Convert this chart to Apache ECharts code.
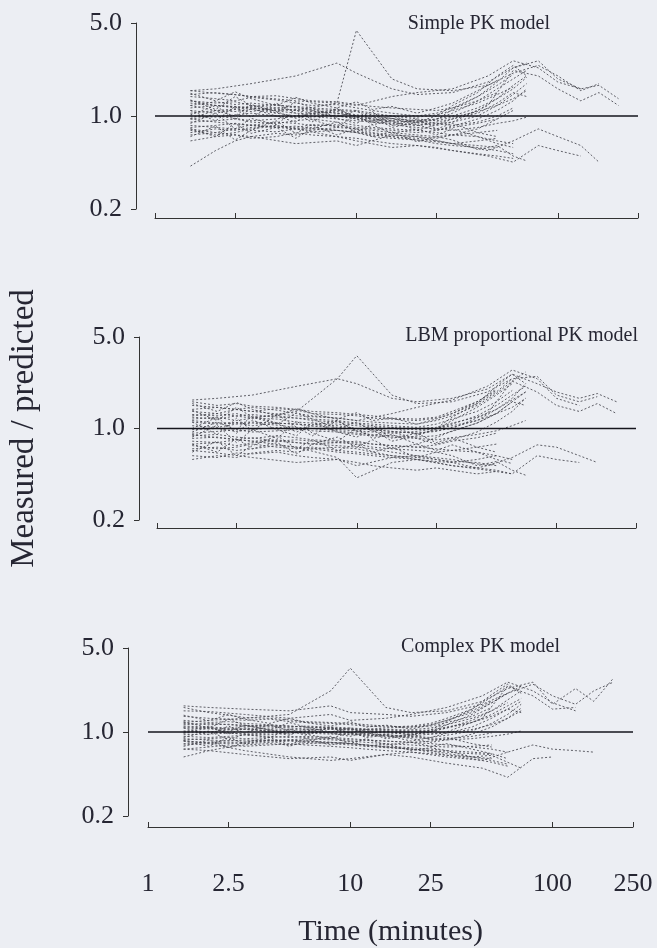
<!DOCTYPE html>
<html>
<head>
    <meta charset="UTF-8">
    <title>Measured / predicted</title>
    <script src="https://cdn.jsdelivr.net/npm/echarts@6.0.0/dist/echarts.min.js"></script>
</head>
<body style="margin:0; background:#eceef3;">
<div id="main" style="width:657px; height:948px;"></div>
<script>
    // sampling times (minutes)
    var timesDense = [1.5, 2, 2.5, 3, 4, 5, 6, 8, 10, 12, 15, 20, 25, 30, 40, 50, 60, 70];
    var timesLong = [1.5, 2, 3, 5, 8, 10, 15, 20, 30, 45, 60, 80, 100, 130, 160, 200];

    var xTicks = [1, 2.5, 10, 25, 100, 250];
    var yTicks = [0.2, 1.0, 5.0];
    var panelTitles = ['Simple PK model', 'LBM proportional PK model', 'Complex PK model'];
    var refLine = [[1, 1], [250, 1]];

    // Simple PK model
    var simpleDense = [
        [1.30, 1.25, 1.28, 1.20, 1.15, 1.18, 1.10, 1.05, 1.00, 0.95, 0.92, 0.90, 0.95, 1.05, 1.30, 1.60, 1.90, 2.20],
        [0.75, 0.80, 0.78, 0.82, 0.85, 0.80, 0.78, 0.82, 0.80, 0.75, 0.72, 0.70, 0.68, 0.72, 0.80, 0.95, 1.10],
        [1.05, 1.10, 1.08, 1.12, 1.05, 1.00, 0.98, 1.02, 0.95, 0.90, 0.88, 0.85, 0.90, 0.95, 1.10, 1.35, 1.70, 2.00],
        [0.90, 0.92, 0.95, 0.90, 0.88, 0.92, 0.95, 0.90, 0.85, 0.82, 0.80, 0.78, 0.75, 0.72, 0.70, 0.65, 0.62],
        [1.40, 1.35, 1.30, 1.38, 1.32, 1.25, 1.20, 1.22, 1.15, 1.10, 1.05, 1.00, 1.05, 1.15, 1.40, 1.80, 2.30, 2.50],
        [0.65, 0.70, 0.72, 0.68, 0.70, 0.75, 0.72, 0.70, 0.68, 0.65, 0.62, 0.60, 0.58, 0.55, 0.52, 0.50, 0.48],
        [1.15, 1.20, 1.18, 1.15, 1.10, 1.12, 1.08, 1.05, 1.00, 0.98, 0.95, 0.92, 0.88, 0.85, 0.90, 1.00, 1.15],
        [0.82, 0.85, 0.88, 0.85, 0.90, 0.88, 0.85, 0.86, 0.82, 0.80, 0.78, 0.75, 0.78, 0.82, 0.88, 0.95],
        [1.00, 0.98, 1.02, 1.05, 1.00, 0.98, 1.00, 0.95, 0.92, 0.90, 0.86, 0.82, 0.80, 0.78, 0.82, 0.88, 0.92, 0.98],
        [1.25, 1.20, 1.15, 1.18, 1.22, 1.15, 1.12, 1.10, 1.08, 1.02, 1.00, 0.98, 1.02, 1.10, 1.25, 1.45, 1.65],
        [0.72, 0.75, 0.80, 0.78, 0.76, 0.80, 0.82, 0.78, 0.75, 0.72, 0.70, 0.68, 0.65, 0.62, 0.60, 0.58],
        [0.95, 1.00, 0.96, 0.92, 0.95, 1.00, 1.05, 1.00, 0.98, 0.95, 0.92, 0.90, 0.85, 0.90, 1.00, 1.20, 1.45, 1.75],
        [1.55, 1.48, 1.45, 1.40, 1.42, 1.35, 1.30, 1.28, 1.22, 1.18, 1.15, 1.12, 1.10, 1.15, 1.30, 1.50],
        [0.85, 0.82, 0.80, 0.86, 0.82, 0.84, 0.80, 0.78, 0.76, 0.74, 0.70, 0.66, 0.62, 0.60, 0.58, 0.55, 0.52],
        [1.10, 1.05, 1.12, 1.08, 1.15, 1.10, 1.05, 1.08, 1.02, 1.00, 0.96, 0.92, 0.95, 1.00, 1.15, 1.35, 1.60, 1.95],
        [0.78, 0.72, 0.75, 0.80, 0.84, 0.82, 0.86, 0.84, 0.80, 0.78, 0.75, 0.72, 0.70, 0.72, 0.75, 0.78],
        [1.20, 1.28, 1.22, 1.25, 1.20, 1.18, 1.15, 1.12, 1.10, 1.05, 1.00, 0.95, 0.92, 0.98, 1.08, 1.20, 1.35, 1.55],
        [0.42, 0.55, 0.65, 0.70, 0.74, 0.72, 0.76, 0.78, 0.75, 0.70, 0.68, 0.66, 0.64, 0.62, 0.65, 0.68],
        [1.10, 0.92, 1.18, 0.98, 1.25, 1.05, 0.90, 1.15, 0.96, 1.08, 0.85, 0.95, 0.80, 0.88, 0.75, 0.70],
        [0.88, 1.05, 0.80, 0.96, 0.86, 1.12, 0.94, 0.82, 1.02, 0.86, 0.92, 0.78, 0.86, 0.95, 1.05, 1.25, 1.50, 1.40],
        [1.32, 1.12, 1.40, 1.20, 1.05, 1.28, 1.15, 0.98, 1.10, 0.92, 1.00, 0.88, 0.94, 1.12, 1.40, 1.70, 2.05],
        [0.70, 0.84, 0.66, 0.78, 0.92, 0.74, 0.86, 0.72, 0.80, 0.70, 0.76, 0.64, 0.70, 0.66, 0.56, 0.60, 0.50, 0.46],
        [1.02, 1.20, 0.94, 1.14, 1.00, 0.90, 1.10, 0.96, 0.88, 1.00, 0.82, 0.90, 1.00, 1.20, 1.50, 2.00, 2.40, 2.00],
        [1.48, 1.30, 1.52, 1.35, 1.20, 1.38, 1.25, 1.15, 1.28, 1.12, 1.18, 1.05, 1.15, 1.25, 1.55, 1.85],
        [0.80, 0.70, 0.88, 0.74, 0.82, 0.68, 0.80, 0.90, 0.76, 0.86, 0.74, 0.80, 0.72, 0.80, 0.70, 0.62, 0.58],
        [0.96, 1.10, 1.00, 1.22, 1.08, 0.96, 1.04, 1.12, 0.98, 0.90, 0.96, 0.86, 0.78, 0.84, 0.95, 1.10, 1.30, 1.60]
    ];
    var simpleLong = [
        [1.55, 1.60, 1.75, 2.00, 2.50, 2.10, 1.60, 1.45, 1.50, 1.80, 2.30, 2.60, 1.90, 1.60, 1.70, 1.35],
        [1.30, 1.20, 1.15, 1.10, 1.25, 4.40, 1.90, 1.60, 1.55, 1.70, 2.10, 2.40, 2.00, 1.55, 1.75],
        [0.95, 0.90, 0.85, 0.80, 0.70, 0.65, 0.58, 0.60, 0.55, 0.50, 0.45, 0.60, 0.55, 0.50],
        [1.20, 1.10, 1.15, 1.05, 1.00, 0.95, 0.90, 0.85, 0.90, 1.20, 2.20, 2.00, 1.60, 1.30, 1.50, 1.20],
        [1.45, 1.50, 1.40, 1.30, 1.25, 1.20, 1.40, 1.50, 1.60, 2.00, 2.60, 2.30, 1.80, 1.60],
        [0.80, 0.75, 0.70, 0.62, 0.65, 0.60, 0.72, 0.70, 0.62, 0.55, 0.65, 0.80, 0.70, 0.60, 0.45]
    ];

    // LBM proportional PK model
    var lbmDense = [
        [1.35, 1.30, 1.40, 1.45, 1.38, 1.30, 1.25, 1.20, 1.15, 1.12, 1.10, 1.08, 1.15, 1.25, 1.50, 1.85, 2.30, 2.70],
        [0.70, 0.72, 0.68, 0.70, 0.74, 0.72, 0.70, 0.66, 0.64, 0.62, 0.60, 0.58, 0.56, 0.55, 0.58, 0.62],
        [1.05, 1.02, 1.08, 1.10, 1.06, 1.02, 1.00, 0.98, 0.96, 0.94, 0.92, 0.95, 1.00, 1.08, 1.25, 1.50, 1.80, 2.10],
        [0.88, 0.90, 0.86, 0.84, 0.88, 0.85, 0.82, 0.80, 0.78, 0.76, 0.74, 0.72, 0.70, 0.68, 0.66, 0.62, 0.58],
        [1.50, 1.45, 1.40, 1.35, 1.42, 1.38, 1.30, 1.28, 1.25, 1.20, 1.18, 1.15, 1.20, 1.30, 1.55, 1.90, 2.40],
        [0.62, 0.60, 0.65, 0.64, 0.66, 0.62, 0.60, 0.58, 0.55, 0.52, 0.50, 0.48, 0.50, 0.48, 0.45, 0.47],
        [1.18, 1.22, 1.15, 1.20, 1.18, 1.12, 1.10, 1.08, 1.05, 1.02, 1.00, 0.98, 1.00, 1.05, 1.15, 1.30, 1.45, 1.70],
        [0.80, 0.78, 0.82, 0.85, 0.80, 0.78, 0.76, 0.78, 0.80, 0.76, 0.74, 0.72, 0.75, 0.80, 0.85, 0.92],
        [0.98, 1.00, 0.95, 0.98, 1.02, 1.00, 0.96, 0.94, 0.90, 0.88, 0.86, 0.84, 0.82, 0.85, 0.90, 0.96, 1.05, 1.15],
        [1.28, 1.25, 1.30, 1.22, 1.25, 1.20, 1.18, 1.15, 1.10, 1.08, 1.05, 1.02, 1.08, 1.18, 1.35, 1.60, 1.95],
        [0.74, 0.70, 0.72, 0.76, 0.72, 0.70, 0.72, 0.68, 0.66, 0.64, 0.62, 0.60, 0.58, 0.56, 0.55, 0.52],
        [0.92, 0.95, 0.98, 0.94, 0.96, 0.98, 1.00, 0.96, 0.92, 0.90, 0.88, 0.86, 0.88, 0.95, 1.10, 1.30, 1.60, 1.90],
        [1.60, 1.50, 1.55, 1.48, 1.45, 1.40, 1.35, 1.32, 1.28, 1.25, 1.20, 1.18, 1.22, 1.35, 1.60, 2.00],
        [0.84, 0.86, 0.82, 0.80, 0.82, 0.78, 0.76, 0.74, 0.72, 0.70, 0.66, 0.62, 0.58, 0.55, 0.50, 0.48, 0.45],
        [1.12, 1.08, 1.10, 1.05, 1.10, 1.08, 1.04, 1.02, 1.00, 0.98, 0.95, 0.92, 0.95, 1.02, 1.15, 1.40, 1.70, 2.20],
        [0.76, 0.78, 0.74, 0.78, 0.80, 0.82, 0.80, 0.78, 0.76, 0.72, 0.70, 0.68, 0.66, 0.68, 0.72, 0.76],
        [1.22, 1.18, 1.25, 1.28, 1.22, 1.20, 1.15, 1.12, 1.08, 1.05, 1.02, 1.00, 1.02, 1.10, 1.22, 1.40, 1.65, 1.90],
        [0.58, 0.62, 0.60, 0.65, 0.68, 0.66, 0.70, 0.72, 0.70, 0.66, 0.62, 0.58, 0.55, 0.52, 0.50, 0.54],
        [1.12, 0.90, 1.20, 0.96, 1.28, 1.02, 0.88, 1.16, 0.94, 1.06, 0.84, 0.92, 0.78, 0.85, 0.72, 0.66],
        [0.86, 1.06, 0.78, 0.98, 0.84, 1.14, 0.92, 0.80, 1.00, 0.84, 0.90, 0.76, 0.85, 0.96, 1.10, 1.30, 1.60, 1.50],
        [1.38, 1.15, 1.45, 1.22, 1.08, 1.32, 1.18, 1.00, 1.12, 0.95, 1.02, 0.90, 0.98, 1.15, 1.45, 1.80, 2.20],
        [0.66, 0.80, 0.62, 0.74, 0.88, 0.70, 0.82, 0.68, 0.76, 0.66, 0.72, 0.60, 0.66, 0.62, 0.52, 0.56, 0.48, 0.44],
        [1.00, 1.22, 0.92, 1.16, 0.98, 0.88, 1.12, 0.94, 0.86, 0.98, 0.80, 0.88, 1.00, 1.22, 1.55, 2.10, 2.60, 2.20],
        [1.55, 1.35, 1.58, 1.40, 1.25, 1.42, 1.30, 1.18, 1.32, 1.15, 1.20, 1.08, 1.18, 1.30, 1.60, 1.95],
        [0.76, 0.66, 0.84, 0.70, 0.78, 0.64, 0.76, 0.86, 0.72, 0.82, 0.70, 0.76, 0.68, 0.75, 0.66, 0.58, 0.54],
        [0.94, 1.12, 0.98, 1.25, 1.10, 0.94, 1.06, 1.14, 0.96, 0.88, 0.94, 0.84, 0.76, 0.82, 0.94, 1.12, 1.35, 1.70]
    ];
    var lbmLong = [
        [1.65, 1.70, 1.80, 2.10, 2.40, 2.20, 1.70, 1.60, 1.70, 2.00, 2.60, 2.20, 1.90, 1.70, 1.85, 1.60],
        [1.25, 1.30, 1.20, 1.35, 2.40, 3.60, 1.80, 1.55, 1.60, 1.90, 2.40, 2.50, 1.80, 1.60, 1.75],
        [0.90, 0.85, 0.80, 0.72, 0.60, 0.42, 0.55, 0.58, 0.52, 0.48, 0.45, 0.62, 0.58, 0.55],
        [1.15, 1.10, 1.12, 1.08, 1.05, 1.00, 0.95, 0.92, 1.00, 1.30, 2.30, 1.90, 1.50, 1.35, 1.55, 1.30],
        [1.40, 1.45, 1.35, 1.25, 1.20, 1.15, 1.30, 1.45, 1.65, 2.10, 2.80, 2.40, 1.70, 1.50],
        [0.68, 0.65, 0.60, 0.55, 0.58, 0.52, 0.60, 0.62, 0.58, 0.52, 0.60, 0.75, 0.72, 0.62, 0.55]
    ];

    // Complex PK model
    var complexDense = [
        [1.25, 1.20, 1.22, 1.18, 1.15, 1.12, 1.10, 1.08, 1.06, 1.05, 1.08, 1.10, 1.15, 1.25, 1.45, 1.75, 2.10, 2.40],
        [0.80, 0.82, 0.85, 0.84, 0.86, 0.85, 0.84, 0.82, 0.80, 0.78, 0.76, 0.74, 0.72, 0.70, 0.68, 0.66],
        [1.02, 1.00, 1.04, 1.05, 1.02, 1.00, 0.98, 1.00, 1.02, 1.00, 0.98, 0.96, 1.00, 1.08, 1.25, 1.50, 1.85, 2.20],
        [0.92, 0.90, 0.92, 0.94, 0.92, 0.90, 0.92, 0.90, 0.88, 0.86, 0.84, 0.82, 0.80, 0.78, 0.75, 0.72, 0.68],
        [1.35, 1.30, 1.28, 1.25, 1.28, 1.22, 1.20, 1.18, 1.15, 1.12, 1.10, 1.12, 1.18, 1.30, 1.55, 1.95, 2.40],
        [0.72, 0.75, 0.78, 0.76, 0.78, 0.80, 0.78, 0.76, 0.74, 0.72, 0.70, 0.68, 0.66, 0.64, 0.62, 0.60],
        [1.12, 1.10, 1.08, 1.12, 1.10, 1.08, 1.06, 1.05, 1.04, 1.02, 1.00, 0.98, 0.96, 0.98, 1.05, 1.15, 1.30, 1.50],
        [0.86, 0.88, 0.90, 0.88, 0.90, 0.92, 0.90, 0.88, 0.86, 0.85, 0.84, 0.82, 0.84, 0.88, 0.92, 0.98],
        [0.98, 1.00, 0.98, 0.96, 0.98, 1.00, 0.98, 0.96, 0.95, 0.94, 0.92, 0.90, 0.88, 0.86, 0.88, 0.92, 0.96, 1.02],
        [1.18, 1.15, 1.16, 1.14, 1.12, 1.10, 1.12, 1.10, 1.08, 1.06, 1.05, 1.04, 1.08, 1.15, 1.30, 1.50, 1.75],
        [0.78, 0.80, 0.82, 0.80, 0.82, 0.84, 0.82, 0.80, 0.78, 0.76, 0.74, 0.72, 0.70, 0.68, 0.66, 0.65],
        [0.95, 0.96, 0.98, 0.96, 0.95, 0.98, 1.00, 0.98, 0.96, 0.95, 0.94, 0.92, 0.90, 0.94, 1.02, 1.18, 1.40, 1.70],
        [1.60, 1.45, 1.38, 1.32, 1.30, 1.26, 1.22, 1.20, 1.18, 1.15, 1.12, 1.10, 1.12, 1.20, 1.35, 1.60],
        [0.88, 0.86, 0.84, 0.86, 0.85, 0.86, 0.84, 0.82, 0.80, 0.78, 0.75, 0.72, 0.68, 0.64, 0.60, 0.56, 0.52],
        [1.08, 1.06, 1.05, 1.08, 1.06, 1.05, 1.04, 1.06, 1.05, 1.04, 1.02, 1.00, 1.02, 1.08, 1.20, 1.40, 1.65, 1.90],
        [0.84, 0.82, 0.80, 0.82, 0.84, 0.86, 0.88, 0.86, 0.84, 0.82, 0.80, 0.78, 0.76, 0.75, 0.76, 0.78],
        [1.15, 1.18, 1.15, 1.12, 1.14, 1.12, 1.10, 1.08, 1.06, 1.05, 1.04, 1.02, 1.04, 1.10, 1.20, 1.35, 1.55, 1.80],
        [0.62, 0.70, 0.75, 0.78, 0.80, 0.78, 0.80, 0.82, 0.80, 0.78, 0.75, 0.72, 0.70, 0.66, 0.62, 0.58, 0.54],
        [1.08, 0.95, 1.12, 0.98, 1.15, 1.02, 0.94, 1.10, 0.98, 1.05, 0.90, 0.96, 0.86, 0.90, 0.80, 0.75],
        [0.90, 1.02, 0.86, 0.96, 0.90, 1.06, 0.96, 0.88, 1.00, 0.90, 0.94, 0.84, 0.90, 0.98, 1.10, 1.30, 1.55, 1.45],
        [1.22, 1.08, 1.28, 1.14, 1.04, 1.20, 1.10, 1.00, 1.08, 0.96, 1.02, 0.94, 1.00, 1.15, 1.40, 1.75, 2.10],
        [0.76, 0.86, 0.74, 0.82, 0.90, 0.78, 0.88, 0.78, 0.84, 0.76, 0.80, 0.70, 0.74, 0.70, 0.62, 0.64, 0.56, 0.50],
        [1.00, 1.12, 0.96, 1.08, 1.00, 0.94, 1.06, 0.98, 0.92, 1.00, 0.88, 0.94, 1.04, 1.22, 1.55, 2.05, 2.50, 2.10],
        [1.38, 1.24, 1.40, 1.28, 1.18, 1.30, 1.20, 1.12, 1.22, 1.10, 1.14, 1.06, 1.14, 1.25, 1.50, 1.80],
        [0.84, 0.76, 0.90, 0.80, 0.86, 0.76, 0.84, 0.92, 0.80, 0.88, 0.78, 0.82, 0.76, 0.80, 0.72, 0.66, 0.60],
        [0.98, 1.08, 1.00, 1.14, 1.04, 0.96, 1.02, 1.08, 0.98, 0.92, 0.96, 0.88, 0.82, 0.86, 0.96, 1.10, 1.30, 1.58]
    ];
    var complexLong = [
        [1.65, 1.60, 1.55, 1.50, 1.65, 1.45, 1.40, 1.35, 1.45, 1.70, 2.10, 2.50, 2.00, 1.70, 2.20, 2.60],
        [1.20, 1.25, 1.30, 1.40, 2.20, 3.40, 1.60, 1.45, 1.50, 1.80, 2.30, 2.60, 1.70, 2.30, 1.80, 2.80],
        [0.85, 0.80, 0.70, 0.62, 0.58, 0.60, 0.65, 0.62, 0.55, 0.50, 0.42, 0.60, 0.62],
        [1.10, 1.08, 1.05, 1.02, 1.00, 0.98, 0.95, 0.92, 1.00, 1.30, 2.40, 2.00, 1.55, 1.60],
        [1.50, 1.48, 1.40, 1.30, 1.40, 1.25, 1.30, 1.40, 1.60, 2.00, 2.60, 2.20, 1.75, 1.50],
        [0.72, 0.70, 0.65, 0.60, 0.62, 0.58, 0.65, 0.68, 0.62, 0.58, 0.68, 0.78, 0.72, 0.70, 0.68]
    ];

    var panels = [
        {dense: simpleDense, long: simpleLong},
        {dense: lbmDense, long: lbmLong},
        {dense: complexDense, long: complexLong}
    ];

    var FONT = 'Liberation Serif';
    var INK = '#262633';

    function toPairs(times, vals) {
        return vals.map(function (v, i) { return [times[i], v]; });
    }

    // 三个面板的位置
    var grids = [
        {left: 155, right: 19, top: 23, height: 186},
        {left: 151, right: 21, top: 337, height: 183},
        {left: 148, right: 24, top: 648, height: 185}
    ];
    var yOffsets = [19, 18, 20];
    var xOffsets = [9, 8, 11];
    var titlePos = [
        {right: 107, top: 14},
        {right: 19, top: 326},
        {right: 97, top: 637}
    ];

    var xAxes = [], yAxes = [], series = [], titles = [];
    grids.forEach(function (g, k) {
        var last = k === grids.length - 1;
        xAxes.push({
            type: 'log', gridIndex: k, min: 1, max: 250, logBase: 10,
            offset: xOffsets[k],
            name: last ? 'Time (minutes)' : '',
            nameLocation: 'middle', nameGap: 90,
            nameTextStyle: {fontFamily: FONT, fontSize: 30, color: INK},
            axisLine: {lineStyle: {color: '#333', width: 1}},
            axisTick: {show: true, inside: true, length: 5, customValues: xTicks, lineStyle: {color: '#333'}},
            axisLabel: {
                show: last, customValues: xTicks, margin: 44,
                fontFamily: FONT, fontSize: 26, color: INK,
                formatter: function (v) { return String(v); }
            },
            minorTick: {show: false},
            splitLine: {show: false}
        });
        yAxes.push({
            type: 'log', gridIndex: k, min: 0.2, max: 5, logBase: 10,
            offset: yOffsets[k],
            name: k === 1 ? 'Measured / predicted' : '',
            nameLocation: 'middle', nameRotate: 90, nameGap: 98,
            nameTextStyle: {fontFamily: FONT, fontSize: 33, color: INK},
            axisLine: {show: true, lineStyle: {color: '#333', width: 1}},
            axisTick: {show: true, length: 5, customValues: yTicks, lineStyle: {color: '#333'}},
            axisLabel: {
                customValues: yTicks, margin: 14,
                fontFamily: FONT, fontSize: 26, color: INK,
                formatter: function (v) { return Number(v).toFixed(1); }
            },
            minorTick: {show: false},
            splitLine: {show: false}
        });
        titles.push({
            text: panelTitles[k], right: titlePos[k].right, top: titlePos[k].top, padding: 0,
            textStyle: {fontFamily: FONT, fontSize: 20, fontWeight: 'normal', color: INK}
        });

        var subjects = panels[k].dense.map(function (v) { return toPairs(timesDense, v); })
            .concat(panels[k].long.map(function (v) { return toPairs(timesLong, v); }));
        subjects.forEach(function (d) {
            series.push({
                type: 'line', xAxisIndex: k, yAxisIndex: k, data: d,
                symbol: 'none', silent: true,
                lineStyle: {color: '#44444c', width: 1, type: [2, 2], opacity: 0.85}
            });
        });
        // 参考线 y = 1
        series.push({
            type: 'line', xAxisIndex: k, yAxisIndex: k, data: refLine,
            symbol: 'none', silent: true, z: 5,
            lineStyle: {color: '#15151c', width: 1.5, type: 'solid'}
        });
    });

    var chart = echarts.init(document.getElementById('main'), null, {renderer: 'canvas'});
    chart.setOption({
        backgroundColor: '#eceef3',
        animation: false,
        title: titles,
        grid: grids,
        xAxis: xAxes,
        yAxis: yAxes,
        series: series
    });
</script>
</body>
</html>
